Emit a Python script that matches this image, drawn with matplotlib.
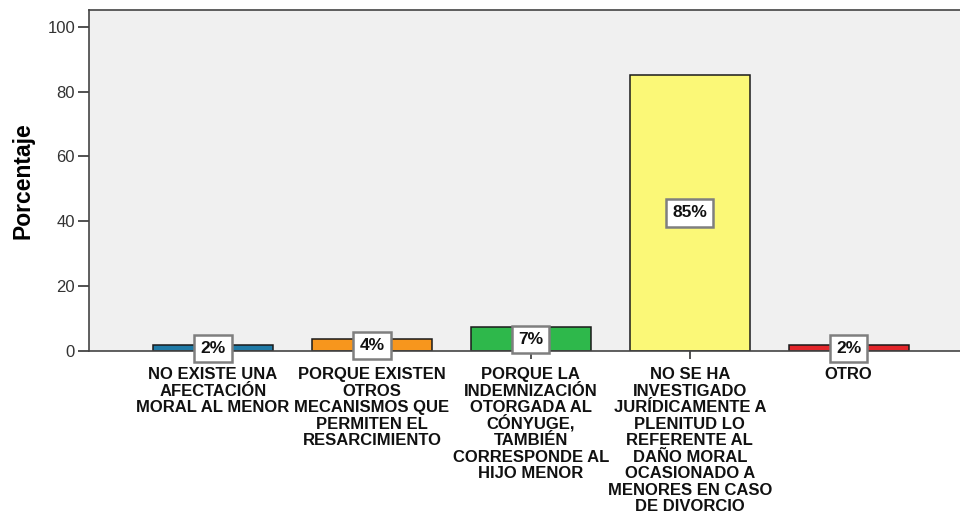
import matplotlib.pyplot as plt

plt.rcParams['font.family'] = ['Liberation Sans', 'DejaVu Sans']

# Datos del gráfico
categorias = [
    "NO EXISTE UNA\nAFECTACIÓN\nMORAL AL MENOR",
    "PORQUE EXISTEN\nOTROS\nMECANISMOS QUE\nPERMITEN EL\nRESARCIMIENTO",
    "PORQUE LA\nINDEMNIZACIÓN\nOTORGADA AL\nCÓNYUGE,\nTAMBIÉN\nCORRESPONDE AL\nHIJO MENOR",
    "NO SE HA\nINVESTIGADO\nJURÍDICAMENTE A\nPLENITUD LO\nREFERENTE AL\nDAÑO MORAL\nOCASIONADO A\nMENORES EN CASO\nDE DIVORCIO",
    "OTRO",
]
porcentajes = [1.85, 3.70, 7.41, 85.19, 1.85]
etiquetas = ["2%", "4%", "7%", "85%", "2%"]
colores = ["#1f7aa6", "#f7961d", "#2eb84b", "#fbf877", "#e3262b"]
yticks = [0, 20, 40, 60, 80, 100]

fig = plt.figure(figsize=(9.6, 5.15), dpi=100)
ax = fig.add_axes([0.0927, 0.318, 0.9073, 0.663])
ax.set_facecolor("#f0f0f0")

x = list(range(len(categorias)))
ax.bar(x, porcentajes, width=0.755, color=colores, edgecolor="#1a1a1a", linewidth=1.1, zorder=2)

# etiquetas de porcentaje en caja blanca
for xi, val, lab in zip(x, porcentajes, etiquetas):
    ax.text(xi, val / 2, lab, ha="center", va="center", fontsize=12.5, fontweight="bold",
            color="#111111", zorder=3,
            bbox=dict(boxstyle="square,pad=0.35", facecolor="white", edgecolor="#7f7f7f", linewidth=1.8))

ax.set_xlim(-0.78, 4.70)
ax.set_ylim(0, 105.2)
ax.set_xticks(x)
ax.set_xticklabels([])
ax.set_yticks(yticks)
ax.tick_params(axis="y", length=8, width=1.2, color="#333333", labelsize=12, labelcolor="#333333", pad=2)
ax.tick_params(axis="x", length=6, width=1.2, color="#333333")

# etiquetas de categoría, línea por línea para que el interlineado sea regular
for xi, cat in zip(x, categorias):
    for k, linea in enumerate(cat.split("\n")):
        ax.annotate(linea, xy=(xi, 0), xycoords=("data", "axes fraction"),
                    xytext=(0, -20.3 - k * 11.88), textcoords="offset points",
                    ha="center", va="baseline", fontsize=12, fontweight="bold",
                    color="#111111", annotation_clip=False)

ax.set_ylabel("Porcentaje", fontsize=16.5, fontweight="bold", labelpad=9)

ax.spines["right"].set_visible(False)
for side in ["left", "top", "bottom"]:
    ax.spines[side].set_color("#444444")
    ax.spines[side].set_linewidth(1.2)

fig.savefig("out.png", dpi=100)
